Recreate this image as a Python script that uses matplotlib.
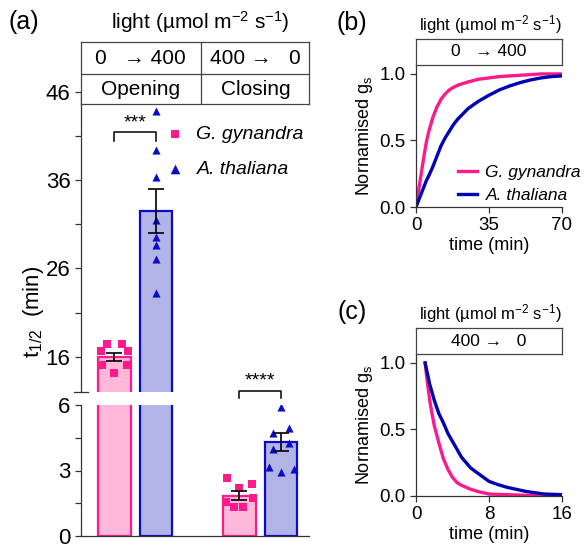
import matplotlib
matplotlib.use('Agg')
import matplotlib.pyplot as plt

plt.rcParams['font.family'] = ['Liberation Sans', 'DejaVu Sans']
plt.rcParams['mathtext.fontset'] = 'custom'
plt.rcParams['mathtext.rm'] = 'Liberation Sans'
plt.rcParams['mathtext.it'] = 'Liberation Sans:italic'

# ---- data ----
species = ['G. gynandra', 'A. thaliana']
open_mean = [16.0, 32.5]
open_sem = [0.45, 2.45]
close_mean = [1.85, 4.3]
close_sem = [0.19, 0.40]

open_gg = [17.4, 17.4, 16.7, 16.7, 15.1, 15.1, 14.2]
open_gg_jit = [-0.19, 0.17, -0.33, 0.32, -0.31, 0.29, 0.0]
open_at = [43.9, 39.4, 36.4, 31.5, 29.6, 28.65, 27.1, 23.2]
open_at_jit = [0, 0, 0, 0, 0, 0, 0, 0]
close_gg = [2.66, 2.21, 2.40, 1.58, 1.31, 1.31, 1.73]
close_gg_jit = [-0.3, 0.0, 0.31, -0.31, -0.12, 0.1, 0.32]
close_at = [5.89, 4.72, 4.94, 3.98, 4.28, 3.18, 3.08, 2.93]
close_at_jit = [0.0, -0.18, 0.19, -0.19, 0.19, -0.29, 0.31, 0.0]

t_open = [0, 1, 2, 3, 4, 5, 6, 8, 10, 12, 14, 16, 18, 20, 25, 30, 35, 40, 45, 50, 55, 60, 65, 70]
gs_open_gg = [0, 0.10, 0.20, 0.30, 0.40, 0.49, 0.56, 0.67, 0.75, 0.81, 0.85, 0.88, 0.90, 0.915,
              0.94, 0.96, 0.97, 0.98, 0.985, 0.99, 0.995, 1.0, 1.0, 1.0]
gs_open_at = [0, 0.04, 0.08, 0.12, 0.16, 0.20, 0.23, 0.30, 0.38, 0.46, 0.52, 0.57, 0.62, 0.66,
              0.74, 0.795, 0.84, 0.88, 0.91, 0.935, 0.955, 0.97, 0.98, 0.985]

t_close = [1, 1.25, 1.5, 1.75, 2, 2.5, 3, 3.5, 4, 4.5, 5, 6, 7, 8, 9, 10, 12, 14, 16]
gs_close_gg = [1.0, 0.85, 0.72, 0.62, 0.53, 0.40, 0.28, 0.20, 0.14, 0.10, 0.08, 0.05, 0.03,
               0.015, 0.012, 0.01, 0.005, 0.0, 0.0]
gs_close_at = [1.0, 0.92, 0.84, 0.78, 0.72, 0.62, 0.55, 0.47, 0.41, 0.35, 0.29, 0.21, 0.16,
               0.11, 0.085, 0.065, 0.035, 0.015, 0.01]

pink = '#ff1a8c'
pink_fill = '#ffb8da'
blue = '#0a0ac8'
blue_fill = '#b2b4e8'
line_blue = '#0000b4'
axcol = '#333333'
light_lbl = r'light (µmol m$^{-2}$ s$^{-1}$)'

fig = plt.figure(figsize=(5.84, 5.49), dpi=100)


def style_ax(ax, size):
    for s in ['top', 'right']:
        ax.spines[s].set_visible(False)
    for s in ['left', 'bottom']:
        ax.spines[s].set_color(axcol)
        ax.spines[s].set_linewidth(0.9)
    ax.tick_params(colors=axcol, labelcolor='black', labelsize=size, width=0.9, length=4)
    ax.tick_params(which='minor', colors=axcol, width=0.9, length=4)


# ---- panel (a) ----
L, W = 81 / 584, 228 / 584
ax_up = fig.add_axes([L, 1 - 392 / 549, W, 300 / 549])
ax_lo = fig.add_axes([L, 1 - 536 / 549, W, 131 / 549])
xpos = [[0, 1], [3, 4]]

for ax in (ax_up, ax_lo):
    style_ax(ax, 16)
    for grp, means, sems in [(0, open_mean, open_sem), (1, close_mean, close_sem)]:
        for i, (fc, ec) in enumerate([(pink_fill, pink), (blue_fill, blue)]):
            ax.bar(xpos[grp][i], means[i], width=0.78, color=fc, edgecolor=ec, linewidth=1.6, zorder=1)
            ax.errorbar(xpos[grp][i], means[i], yerr=sems[i], color='black', capsize=6,
                        elinewidth=1.2, capthick=1.2, zorder=4)
    ax.scatter([xpos[0][0] + j for j in open_gg_jit], open_gg, marker='s', s=28, color=pink, zorder=3, linewidths=0)
    ax.scatter([xpos[0][1] + j for j in open_at_jit], open_at, marker='^', s=34, color=blue, zorder=3, linewidths=0)
    ax.scatter([xpos[1][0] + j for j in close_gg_jit], close_gg, marker='s', s=28, color=pink, zorder=3, linewidths=0)
    ax.scatter([xpos[1][1] + j for j in close_at_jit], close_at, marker='^', s=34, color=blue, zorder=3, linewidths=0)
    ax.set_xlim(-0.805, 4.675)
    ax.set_xticks([])

ax_up.set_ylim(12, 46)
ax_up.set_yticks([16, 26, 36, 46])
ax_up.set_yticks([21, 31, 41], minor=True)
ax_up.spines['bottom'].set_visible(False)
ax_up.plot([-0.03, 0.03], [0, 0], transform=ax_up.transAxes, color=axcol, lw=0.9, clip_on=False)
ax_lo.set_ylim(0, 6)
ax_lo.set_yticks([0, 3, 6])
ax_lo.set_yticks([1.5, 4.5], minor=True)

# legend for (a)
h1 = ax_up.scatter([], [], marker='s', s=40, color=pink, linewidths=0, label=species[0])
h2 = ax_up.scatter([], [], marker='^', s=48, color=blue, linewidths=0, label=species[1])
leg = ax_up.legend(handles=[h1, h2], loc='upper left', bbox_to_anchor=(0.37, 0.89), frameon=False,
                   prop={'style': 'italic', 'size': 14}, handlelength=1.0, handletextpad=0.6,
                   labelspacing=0.9, borderpad=0, borderaxespad=0)

# significance brackets
ax_up.plot([0, 0, 1, 1], [40.5, 41.45, 41.45, 40.5], color='black', lw=1.1, clip_on=False)
ax_up.text(0.5, 41.55, '***', ha='center', va='bottom', fontsize=14)
ax_lo.plot([3, 3, 4, 4], [6.31, 6.64, 6.64, 6.31], color='black', lw=1.1, clip_on=False)
ax_lo.text(3.5, 6.7, '****', ha='center', va='bottom', fontsize=14)

# header boxes for (a)
hd = fig.add_axes([L, 1 - 104 / 549, W, 62 / 549])
hd.set_xlim(0, 1)
hd.set_ylim(0, 1)
hd.set_xticks([])
hd.set_yticks([])
for s in hd.spines.values():
    s.set_color('#444444')
    s.set_linewidth(0.9)
hd.axhline(0.485, color='#444444', lw=0.9)
hd.axvline(0.526, color='#444444', lw=0.9)
hd.text(0.262, 0.74, '0   \u2192 400', ha='center', va='center', fontsize=15)
hd.text(0.765, 0.74, '400 \u2192   0', ha='center', va='center', fontsize=15)
hd.text(0.262, 0.24, 'Opening', ha='center', va='center', fontsize=15)
hd.text(0.765, 0.24, 'Closing', ha='center', va='center', fontsize=15)

fig.text(24 / 584, 1 - 22 / 549, '(a)', ha='center', va='center', fontsize=18)
fig.text(200 / 584, 1 - 22 / 549, light_lbl, ha='center', va='center', fontsize=15)
fig.text(34 / 584, 1 - 312 / 549, r't$_{1/2}$  (min)', ha='center', va='center', fontsize=16, rotation=90)


# ---- panels (b) and (c) ----
def curve_panel(bottom_px, t, gg, at, xmax, xt, arrow_txt, tag, legend):
    ax = fig.add_axes([416 / 584, 1 - bottom_px / 549, 146 / 584, 142 / 549])
    style_ax(ax, 13.5)
    ax.plot(t, gg, color=pink, lw=2.4, label=species[0])
    ax.plot(t, at, color=line_blue, lw=2.4, label=species[1])
    ax.set_xlim(0, xmax)
    ax.set_ylim(0, 1.067)
    ax.set_xticks(xt)
    ax.set_yticks([0, 0.5, 1.0])
    ax.set_yticklabels(['0.0', '0.5', '1.0'])
    ax.set_xlabel('time (min)', fontsize=13, labelpad=2)
    ax.set_ylabel(r'Nornamised g$_\mathregular{s}$', fontsize=13, labelpad=3)
    if legend:
        ax.legend(loc='lower left', bbox_to_anchor=(0.285, 0.03), frameon=False,
                  prop={'style': 'italic', 'size': 12.5}, handlelength=1.1,
                  handletextpad=0.5, labelspacing=0.45, borderpad=0, borderaxespad=0)
    top_px = bottom_px - 142
    hb = fig.add_axes([416 / 584, 1 - top_px / 549, 146 / 584, 26 / 549])
    hb.set_xticks([])
    hb.set_yticks([])
    for s in hb.spines.values():
        s.set_color('#444444')
        s.set_linewidth(0.9)
    hb.text(0.5, 0.5, arrow_txt, ha='center', va='center', fontsize=12.5, transform=hb.transAxes)
    fig.text(490 / 584, 1 - (top_px - 40) / 549, light_lbl,
             ha='center', va='center', fontsize=12)
    fig.text(352 / 584, 1 - (top_px - 42) / 549, tag, ha='center', va='center', fontsize=18)
    return ax


curve_panel(207, t_open, gs_open_gg, gs_open_at, 70, [0, 35, 70], '0   \u2192 400', '(b)', True)
curve_panel(496, t_close, gs_close_gg, gs_close_at, 16, [0, 8, 16], '400 \u2192   0', '(c)', False)

fig.savefig('out.png', dpi=100)
